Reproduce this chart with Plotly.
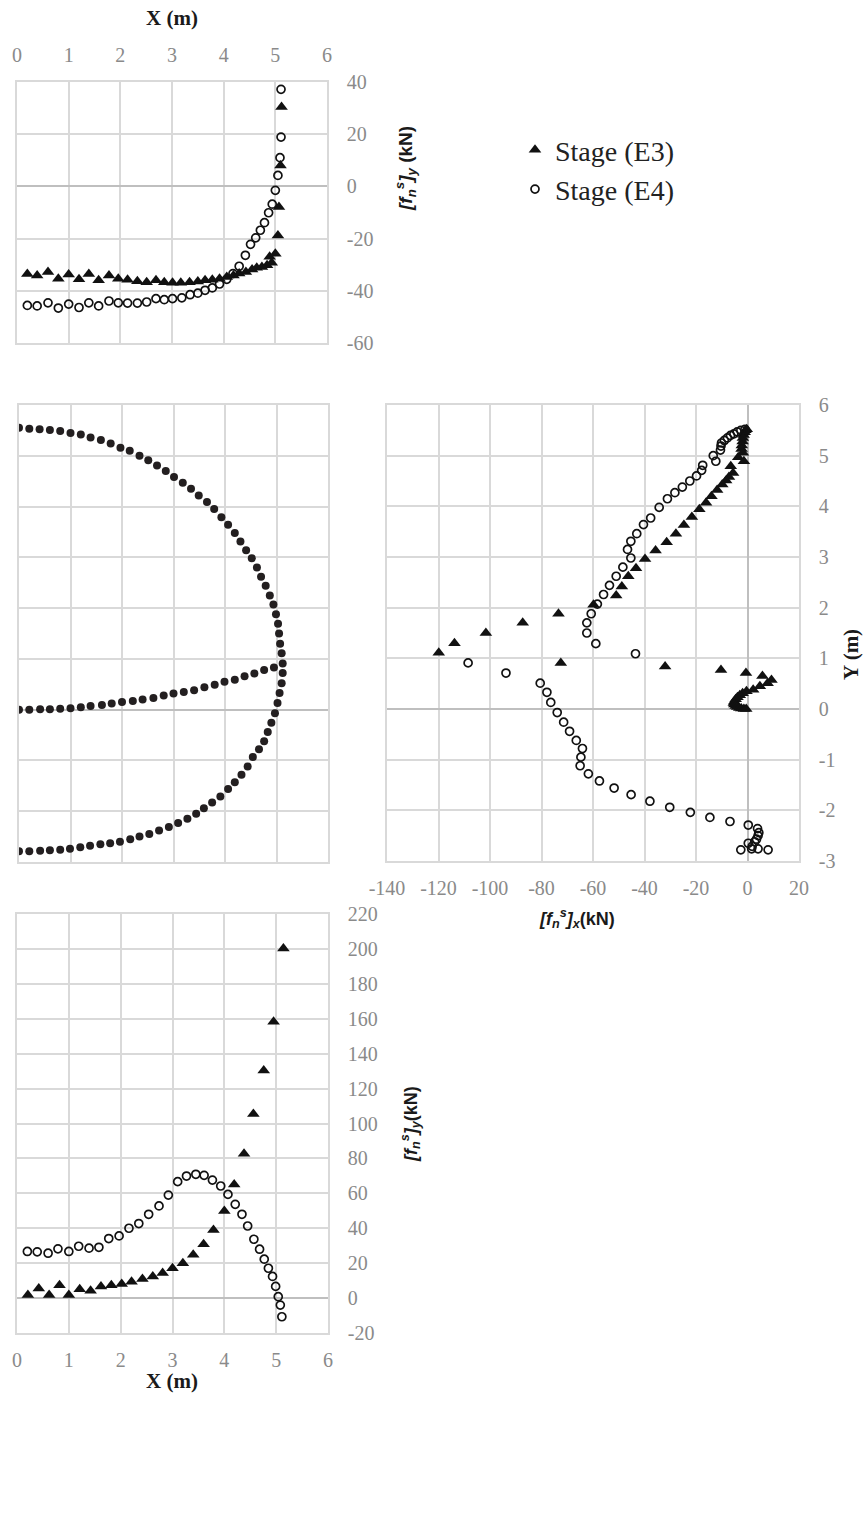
import plotly.graph_objects as go

# ---------------- data ----------------
# Panel 1 (top): [f_n^s]_y vs X  (upper arch)
top_x_e3 = [0.20, 0.39, 0.60, 0.80, 1.00, 1.20, 1.39, 1.58, 1.78, 1.96, 2.14, 2.33, 2.51, 2.69, 2.85, 3.01, 3.17, 3.34,
            3.50, 3.64, 3.78, 3.92, 4.06, 4.19, 4.30, 4.43, 4.55, 4.64, 4.74, 4.84, 4.89, 4.93, 5.00, 5.05, 5.07, 5.10, 5.12]
top_y_e3 = [-33.6, -34.1, -32.8, -35.4, -33.8, -35.6, -33.6, -36.0, -34.1, -35.4, -35.8, -36.3, -36.7, -36.0, -36.7, -36.9,
            -36.9, -36.7, -36.4, -36.0, -35.8, -35.4, -34.7, -34.1, -33.4, -32.8, -31.8, -31.2, -30.9, -30.2, -27.0, -29.3,
            -25.8, -18.8, -7.9, 8.0, 30.4]
top_x_e4 = [0.20, 0.39, 0.60, 0.80, 1.00, 1.20, 1.39, 1.58, 1.78, 1.96, 2.14, 2.33, 2.51, 2.69, 2.85, 3.01, 3.19, 3.35,
            3.50, 3.64, 3.78, 3.92, 4.06, 4.18, 4.30, 4.42, 4.52, 4.62, 4.71, 4.79, 4.87, 4.94, 5.00, 5.05, 5.09, 5.11, 5.11]
top_y_e4 = [-45.6, -45.8, -44.6, -46.6, -45.1, -46.4, -44.6, -45.8, -43.9, -44.6, -44.7, -44.7, -44.3, -43.0, -43.4, -43.0,
            -42.7, -41.5, -40.9, -39.8, -38.9, -37.4, -35.6, -33.4, -30.6, -26.4, -22.2, -19.7, -16.8, -13.9, -10.1, -6.8,
            -1.5, 4.2, 11.0, 18.9, 37.2]

# Panel 2: tunnel geometry (m)
ring_x = [0.00, 0.20, 0.40, 0.60, 0.80, 1.00, 1.20, 1.39, 1.59, 1.78, 1.97, 2.15, 2.34, 2.51, 2.68, 2.85, 3.01, 3.18,
          3.34, 3.49, 3.65, 3.79, 3.93, 4.06, 4.19, 4.30, 4.41, 4.52, 4.62, 4.70, 4.79, 4.87, 4.94, 4.99, 5.03, 5.05,
          5.07, 5.10, 5.12, 5.12, 5.10, 5.06, 5.02, 4.97, 4.90, 4.83, 4.76, 4.66, 4.54, 4.44, 4.32, 4.19, 4.06, 3.91,
          3.75, 3.59, 3.44, 3.27, 3.09, 2.91, 2.72, 2.53, 2.34, 2.16, 1.96, 1.77, 1.58, 1.38, 1.19, 0.99, 0.80, 0.60,
          0.41, 0.20, 0.00]
ring_y = [5.55, 5.53, 5.52, 5.51, 5.49, 5.45, 5.42, 5.36, 5.31, 5.24, 5.16, 5.10, 5.00, 4.91, 4.81, 4.70, 4.58, 4.47,
          4.35, 4.22, 4.09, 3.95, 3.79, 3.64, 3.48, 3.31, 3.14, 2.98, 2.80, 2.62, 2.44, 2.25, 2.07, 1.88, 1.69, 1.50,
          1.30, 1.11, 0.91, 0.72, 0.52, 0.33, 0.13, -0.07, -0.26, -0.44, -0.62, -0.78, -0.93, -1.12, -1.28, -1.43,
          -1.56, -1.71, -1.83, -1.94, -2.05, -2.15, -2.23, -2.31, -2.38, -2.45, -2.50, -2.55, -2.60, -2.63, -2.65,
          -2.68, -2.71, -2.74, -2.76, -2.77, -2.78, -2.79, -2.79]
invert_x = [0.00, 0.20, 0.41, 0.60, 0.80, 1.00, 1.20, 1.39, 1.61, 1.80, 2.00, 2.21, 2.40, 2.61, 2.81, 3.00, 3.20, 3.40,
            3.60, 3.80, 3.99, 4.19, 4.38, 4.57, 4.76, 4.95]
invert_y = [0.00, 0.00, 0.01, 0.01, 0.02, 0.03, 0.05, 0.07, 0.09, 0.12, 0.15, 0.17, 0.20, 0.23, 0.28, 0.32, 0.35, 0.38,
            0.44, 0.49, 0.55, 0.59, 0.66, 0.71, 0.78, 0.83]

# Panel 3: [f_n^s]_x (kN) vs Y (m)
mid_fx_e3 = [-0.3, -0.8, -1.1, -1.5, -1.8, -1.9, -2.2, -2.3, -1.8, -3.6, -1.4, -6.5, -5.6, -7.2, -8.3, -9.8, -11.8, -14.0,
             -16.1, -18.7, -21.6, -24.7, -27.8, -31.4, -35.7, -39.8, -43.3, -46.3, -48.8, -51.0, -59.8, -73.4, -87.3,
             -101.6, -113.8, -119.9, -72.5, -32.0, -10.3, -0.6, 5.8, 9.3, 7.8, 4.8, 2.2, -0.4, -1.9, -3.0, -3.9, -4.6,
             -5.1, -5.3, -5.1, -4.6, -4.0, -3.2, -2.4, -1.4, -0.5]
mid_y_e3 = [5.52, 5.50, 5.46, 5.41, 5.35, 5.28, 5.20, 5.13, 5.06, 4.97, 4.89, 4.79, 4.66, 4.58, 4.51, 4.43, 4.32, 4.20,
            4.07, 3.94, 3.79, 3.63, 3.46, 3.29, 3.13, 2.96, 2.78, 2.62, 2.42, 2.24, 2.06, 1.88, 1.70, 1.50, 1.30, 1.11,
            0.91, 0.84, 0.77, 0.71, 0.65, 0.57, 0.51, 0.45, 0.38, 0.35, 0.31, 0.27, 0.23, 0.19, 0.15, 0.12, 0.09, 0.06,
            0.04, 0.02, 0.01, 0.00, 0.00]
mid_fx_e4 = [-1.0, -2.6, -4.0, -5.3, -6.6, -7.8, -9.0, -10.1, -10.3, -10.5, -13.3, -12.3, -17.4, -17.8, -19.8, -22.4,
             -25.3, -28.2, -31.1, -34.3, -37.6, -40.4, -43.0, -45.3, -46.6, -45.3, -48.4, -51.0, -53.6, -55.9, -58.3,
             -60.7, -62.4, -62.4, -58.9, -43.5, -108.5, -93.8, -80.5, -77.9, -76.4, -73.9, -71.4, -69.1, -66.5, -64.1,
             -64.7, -65.0, -61.8, -57.5, -51.8, -45.2, -37.9, -30.2, -22.2, -14.6, -6.8, 0.3, 3.9, 4.4, 4.1, 3.5, 2.8,
             0.3, 1.8, 1.6, -2.6, 4.1, 8.0]
mid_y_e4 = [5.52, 5.50, 5.47, 5.43, 5.40, 5.35, 5.30, 5.25, 5.19, 5.11, 5.00, 4.89, 4.81, 4.71, 4.60, 4.50, 4.38, 4.27,
            4.15, 3.98, 3.77, 3.64, 3.46, 3.31, 3.15, 2.98, 2.80, 2.62, 2.44, 2.26, 2.07, 1.88, 1.70, 1.50, 1.29, 1.09,
            0.91, 0.71, 0.51, 0.33, 0.13, -0.07, -0.26, -0.44, -0.62, -0.78, -0.95, -1.12, -1.28, -1.42, -1.56, -1.69,
            -1.82, -1.94, -2.04, -2.14, -2.22, -2.29, -2.36, -2.44, -2.50, -2.57, -2.62, -2.65, -2.71, -2.76, -2.78,
            -2.76, -2.78]

# Panel 4 (bottom): [f_n^s]_y vs X (invert)
bot_x_e3 = [0.21, 0.42, 0.62, 0.82, 1.00, 1.21, 1.42, 1.62, 1.82, 2.02, 2.21, 2.42, 2.62, 2.81, 3.00, 3.20, 3.40, 3.60,
            3.79, 4.00, 4.19, 4.38, 4.56, 4.76, 4.95, 5.14]
bot_fy_e3 = [1.7, 5.5, 1.7, 7.4, 1.7, 5.1, 4.2, 6.7, 7.4, 8.0, 9.3, 10.9, 12.4, 14.3, 17.1, 20.0, 24.8, 30.9, 39.0,
             49.9, 65.0, 82.7, 105.5, 130.3, 158.3, 200.2]
bot_x_e4 = [0.20, 0.39, 0.60, 0.79, 1.00, 1.19, 1.39, 1.58, 1.77, 1.97, 2.16, 2.35, 2.54, 2.74, 2.92, 3.10, 3.27, 3.45,
            3.61, 3.77, 3.93, 4.07, 4.21, 4.34, 4.45, 4.57, 4.68, 4.77, 4.85, 4.93, 4.99, 5.04, 5.08, 5.11]
bot_fy_e4 = [26.7, 26.5, 25.7, 28.2, 26.7, 29.7, 28.6, 29.1, 34.1, 35.6, 40.0, 42.7, 48.0, 52.8, 59.0, 66.7, 69.9, 70.9,
             70.3, 67.6, 64.2, 59.4, 53.7, 48.0, 41.3, 33.7, 28.0, 22.3, 17.1, 12.4, 6.7, 0.8, -4.0, -10.7]

# Tick labels
x_m_ticks = [0, 1, 2, 3, 4, 5, 6]
top_fy_ticks = [-60, -40, -20, 0, 20, 40]
y_m_ticks = [-3, -2, -1, 0, 1, 2, 3, 4, 5, 6]
fx_ticks = [-140, -120, -100, -80, -60, -40, -20, 0, 20]
bot_fy_ticks = [-20, 0, 20, 40, 60, 80, 100, 120, 140, 160, 180, 200, 220]

series_names = ["Stage (E3)", "Stage (E4)"]

# ---------------- figure ----------------
W, H = 866, 1530
def px(a, b):
    return [a / W, b / W]
def py(top, bottom):
    return [1 - bottom / H, 1 - top / H]

TRI = dict(symbol="triangle-up", size=11, color="#111111")
CIR = dict(symbol="circle-open", size=8, color="#111111", line=dict(width=1.7, color="#111111"))
DOT = dict(symbol="circle", size=8, color="#231f20")

fig = go.Figure()
fig.add_trace(go.Scatter(x=top_x_e3, y=top_y_e3, mode="markers", marker=TRI, name=series_names[0],
                         legendgroup="e3", xaxis="x", yaxis="y"))
fig.add_trace(go.Scatter(x=top_x_e4, y=top_y_e4, mode="markers", marker=CIR, name=series_names[1],
                         legendgroup="e4", xaxis="x", yaxis="y"))
fig.add_trace(go.Scatter(x=ring_x, y=ring_y, mode="markers", marker=DOT, showlegend=False, xaxis="x2", yaxis="y2"))
fig.add_trace(go.Scatter(x=invert_x, y=invert_y, mode="markers", marker=DOT, showlegend=False, xaxis="x2", yaxis="y2"))
fig.add_trace(go.Scatter(x=mid_fx_e3, y=mid_y_e3, mode="markers", marker=TRI, showlegend=False, xaxis="x3", yaxis="y3"))
fig.add_trace(go.Scatter(x=mid_fx_e4, y=mid_y_e4, mode="markers", marker=CIR, showlegend=False, xaxis="x3", yaxis="y3"))
fig.add_trace(go.Scatter(x=bot_x_e3, y=bot_fy_e3, mode="markers", marker=TRI, showlegend=False, xaxis="x4", yaxis="y4"))
fig.add_trace(go.Scatter(x=bot_x_e4, y=bot_fy_e4, mode="markers", marker=CIR, showlegend=False, xaxis="x4", yaxis="y4"))

GRID = "#d9d9d9"
ZERO = "#bfbfbf"
TICKFONT = dict(family="Liberation Serif", size=20, color="#8a8a8a")

def ax(rng, vals, show=True, side=None, dom=None, anchor=None, standoff=10):
    d = dict(range=rng, tickmode="array", tickvals=vals, ticktext=[str(v) for v in vals],
             showgrid=True, gridcolor=GRID, gridwidth=1.5, zeroline=True, zerolinecolor=ZERO, zerolinewidth=1.5,
             showline=True, mirror=True, linecolor=GRID, linewidth=1.5, ticks="", showticklabels=show,
             tickfont=TICKFONT, domain=dom, anchor=anchor, fixedrange=True, ticklabelstandoff=standoff,
             automargin=False)
    if side:
        d["side"] = side
    return d

fig.update_layout(
    width=W, height=H, margin=dict(l=0, r=0, t=0, b=0, autoexpand=False),
    paper_bgcolor="white", plot_bgcolor="white",
    xaxis=ax([0, 6], x_m_ticks, side="top", dom=px(17, 327), anchor="y", standoff=10),
    yaxis=ax([-60, 40], top_fy_ticks, side="right", dom=py(82, 343), anchor="x", standoff=14),
    xaxis2=ax([0, 6], x_m_ticks, show=False, dom=px(19, 328), anchor="y2"),
    yaxis2=ax([-3, 6], y_m_ticks, show=False, dom=py(405, 862), anchor="x2"),
    xaxis3=ax([-140, 20], fx_ticks, side="bottom", dom=px(387, 799), anchor="y3", standoff=8),
    yaxis3=ax([-3, 6], y_m_ticks, side="right", dom=py(405, 861), anchor="x3", standoff=14),
    xaxis4=ax([0, 6], x_m_ticks, side="bottom", dom=px(17, 328), anchor="y4", standoff=8),
    yaxis4=ax([-20, 220], bot_fy_ticks, side="right", dom=py(914, 1333), anchor="x4", standoff=14),
    legend=dict(x=515 / W, y=1 - 125 / H, xanchor="left", yanchor="top", bgcolor="rgba(0,0,0,0)",
                font=dict(family="Liberation Serif", size=28, color="#222222"), tracegroupgap=0,
                itemsizing="trace"),
    showlegend=True,
)

TITLE_SERIF = dict(family="Liberation Serif", size=21, color="#1a1a1a")
TITLE_SANS = dict(family="Liberation Sans", size=19, color="#1a1a1a")
TITLE_SANS2 = dict(family="Liberation Sans", size=18, color="#1a1a1a")
fy_label = "<b><i>[f<sub>n</sub><sup>s</sup>]<sub>y</sub></i> (kN)</b>"
fx_label = "<b><i>[f<sub>n</sub><sup>s</sup>]<sub>x</sub></i>(kN)</b>"
annots = [
    dict(text="<b>X (m)</b>", x=172 / W, y=1 - 18 / H, font=TITLE_SERIF, textangle=0),
    dict(text=fy_label, x=405 / W, y=1 - 169 / H, font=TITLE_SANS, textangle=-90),
    dict(text="<b>Y (m)</b>", x=851 / W, y=1 - 655 / H, font=TITLE_SERIF, textangle=-90),
    dict(text=fx_label, x=577 / W, y=1 - 918 / H, font=TITLE_SANS2, textangle=0),
    dict(text=fy_label.replace(" (kN)", "(kN)"), x=410 / W, y=1 - 1124 / H, font=TITLE_SANS2, textangle=-90),
    dict(text="<b>X (m)</b>", x=172 / W, y=1 - 1381 / H, font=TITLE_SERIF, textangle=0),
]
for a in annots:
    fig.add_annotation(xref="paper", yref="paper", showarrow=False, xanchor="center", yanchor="middle", **a)

fig.write_html("out.html", config={"displayModeBar": False},
               post_script="document.body.style.margin='0px';")
